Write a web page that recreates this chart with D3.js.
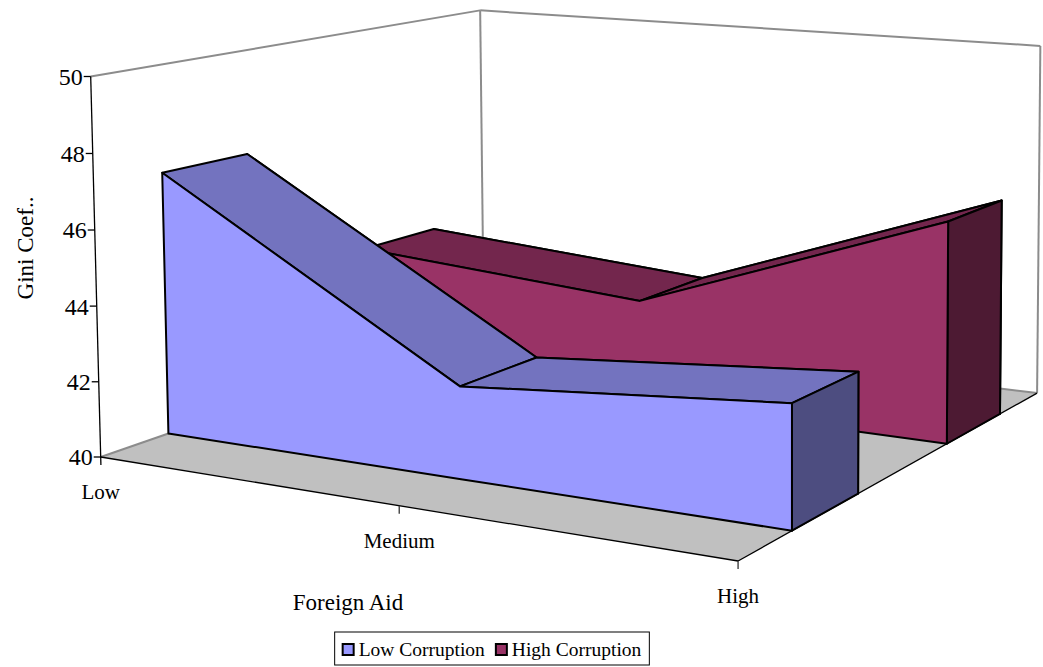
<!DOCTYPE html>
<html>
<head>
<meta charset="utf-8">
<script src="https://cdn.jsdelivr.net/npm/d3@7"></script>
<style>
  body { margin: 0; background: #fff; }
  svg { display: block; font-family: "Liberation Serif", "Times New Roman", serif; }
</style>
</head>
<body>
<svg id="chart" width="1043" height="667"></svg>
<script>
// ---- data ----
const categories = ["Low", "Medium", "High"];
const seriesNames = ["Low Corruption", "High Corruption"];
const lowCorruption = [47.1, 42.4, 43.1];
const highCorruption = [43.5, 42.9, 46.0];
const valueTicks = [40, 42, 44, 46, 48, 50];
const seriesColors = ["#9999FF", "#993366"];

// ---- perspective camera ----
// floor corner under the value axis, plus the vanishing point and weight of each world axis
const cam = {
  origin: [100.7, 457],
  vu: [-4618, -313], ku: -0.119,   // category axis (Low -> High)
  vw: [2255, -291],  kw: 0.2163,   // depth axis (front -> back)
  vv: [790, 26685],  kv: -0.0143   // value axis (up)
};
function project(u, w, v) {
  const d = 1 + cam.ku * u + cam.kw * w + cam.kv * v;
  const x = cam.origin[0] + cam.ku * u * cam.vu[0] + cam.kw * w * cam.vw[0] + cam.kv * v * cam.vv[0];
  const y = cam.origin[1] + cam.ku * u * cam.vu[1] + cam.kw * w * cam.vw[1] + cam.kv * v * cam.vv[1];
  return [x / d, y / d];
}

// ---- scales ----
const uScale = d3.scalePoint().domain(categories).range([0, 1]);
const wScale = d3.scaleBand().domain(seriesNames).range([0, 1]).paddingInner(0.6).paddingOuter(0.3);
const vScale = d3.scaleLinear().domain([40, 50]).range([0, 1]);

const series = seriesNames.map((name, i) => ({
  name,
  values: [lowCorruption, highCorruption][i],
  color: seriesColors[i]
}));

function shade(c, f) {
  const r = d3.rgb(c);
  return d3.rgb(r.r * f, r.g * f, r.b * f).formatHex();
}

const svg = d3.select("#chart");
const poly = pts => "M" + pts.map(p => p.join(",")).join("L") + "Z";
const line = d3.line();

// ---- walls and floor ----
const frame = svg.append("g");
frame.append("path") // left wall
  .attr("d", poly([project(0, 0, 0), project(0, 1, 0), project(0, 1, 1), project(0, 0, 1)]))
  .attr("fill", "#fff").attr("stroke", "none");
frame.append("path") // back wall
  .attr("d", poly([project(0, 1, 0), project(1, 1, 0), project(1, 1, 1), project(0, 1, 1)]))
  .attr("fill", "#fff").attr("stroke", "none");
frame.append("path") // floor
  .attr("d", poly([project(0, 0, 0), project(1, 0, 0), project(1, 1, 0), project(0, 1, 0)]))
  .attr("fill", "#C0C0C0").attr("stroke", "none");

const grayEdges = [
  [project(0, 0, 1), project(0, 1, 1)],
  [project(0, 1, 1), project(1, 1, 1)],
  [project(0, 1, 0), project(0, 1, 1)],
  [project(1, 1, 0), project(1, 1, 1)],
  [project(0, 0, 0), project(0, 1, 0)],
  [project(0, 1, 0), project(1, 1, 0)]
];
frame.selectAll(".wall-edge").data(grayEdges).join("path")
  .attr("class", "wall-edge")
  .attr("d", d => line(d))
  .attr("fill", "none").attr("stroke", "#8c8c8c").attr("stroke-width", 2);

frame.selectAll(".floor-edge").data([
  [project(0, 0, 0), project(1, 0, 0)],
  [project(1, 0, 0), project(1, 1, 0)]
]).join("path")
  .attr("class", "floor-edge")
  .attr("d", d => line(d))
  .attr("fill", "none").attr("stroke", "#000").attr("stroke-width", 1.3);

// ---- 3D area series, back to front ----
const plot = svg.append("g").attr("stroke", "#000").attr("stroke-width", 2).attr("stroke-linejoin", "round");
series.slice().reverse().forEach(s => {
  const w0 = wScale(s.name), w1 = w0 + wScale.bandwidth();
  const u = categories.map(c => uScale(c));
  const v = s.values.map(d => vScale(d));
  const n = categories.length;
  const g = plot.append("g");

  // back face
  g.append("path")
    .attr("d", poly(u.map(ui => project(ui, w1, 0))
      .concat(u.map((ui, i) => project(ui, w1, v[i])).reverse())))
    .attr("fill", s.color);

  // top faces
  for (let i = 0; i < n - 1; i++) {
    g.append("path")
      .attr("d", poly([project(u[i], w0, v[i]), project(u[i + 1], w0, v[i + 1]),
                       project(u[i + 1], w1, v[i + 1]), project(u[i], w1, v[i])]))
      .attr("fill", shade(s.color, 0.75));
  }

  // end face at the last category
  g.append("path")
    .attr("d", poly([project(u[n - 1], w0, 0), project(u[n - 1], w1, 0),
                     project(u[n - 1], w1, v[n - 1]), project(u[n - 1], w0, v[n - 1])]))
    .attr("fill", shade(s.color, 0.5));

  // front face
  g.append("path")
    .attr("d", poly(u.map(ui => project(ui, w0, 0))
      .concat(u.map((ui, i) => project(ui, w0, v[i])).reverse())))
    .attr("fill", s.color);
});

// ---- value axis ----
const axis = svg.append("g");
const a0 = project(0, 0, 0), a1 = project(0, 0, 1);
axis.append("path")
  .attr("d", line([a1, [a0[0] + (a0[0] - a1[0]) * 8 / (a0[1] - a1[1]), a0[1] + 8]]))
  .attr("stroke", "#000").attr("stroke-width", 1.3).attr("fill", "none");
const vt = axis.selectAll(".vtick").data(valueTicks).join("g").attr("class", "vtick")
  .attr("transform", d => { const p = project(0, 0, vScale(d)); return `translate(${p[0]},${p[1]})`; });
vt.append("line").attr("x1", -7).attr("x2", 0).attr("stroke", "#000").attr("stroke-width", 1.3);
vt.append("text").attr("x", -8).attr("dy", "0.35em").attr("text-anchor", "end")
  .attr("font-size", 24).attr("fill", "#000").text(d => d);

// ---- category axis ----
const ct = axis.selectAll(".ctick").data(categories).join("g").attr("class", "ctick")
  .attr("transform", d => { const p = project(uScale(d), 0, 0); return `translate(${p[0]},${p[1]})`; });
ct.filter((d, i) => i > 0).append("line").attr("y1", 0).attr("y2", 8)
  .attr("stroke", "#333").attr("stroke-width", 1.3);
ct.append("text").attr("y", 42).attr("text-anchor", "middle")
  .attr("font-size", 21).attr("fill", "#000").text(d => d);

// ---- titles ----
svg.append("text").attr("x", 348).attr("y", 610).attr("text-anchor", "middle")
  .attr("font-size", 23).text("Foreign Aid");
svg.append("text").attr("transform", "translate(33,248) rotate(-90)").attr("text-anchor", "middle")
  .attr("font-size", 23).text("Gini Coef..");

// ---- legend ----
const legend = svg.append("g");
const box = legend.append("rect").attr("fill", "#fff").attr("stroke", "#000").attr("stroke-width", 1);
const items = legend.append("g");
let xPos = 0;
series.forEach(s => {
  const it = items.append("g").attr("transform", `translate(${xPos},0)`);
  it.append("rect").attr("x", 0).attr("y", -12).attr("width", 11).attr("height", 11)
    .attr("fill", s.color).attr("stroke", "#000").attr("stroke-width", 2);
  const t = it.append("text").attr("x", 16).attr("y", 0).attr("font-size", 19.5).text(s.name);
  xPos += 16 + t.node().getComputedTextLength() + 11;
});
const legendWidth = xPos - 11;
const legendX = 492 - legendWidth / 2;
items.attr("transform", `translate(${legendX},656)`);
box.attr("x", legendX - 8).attr("y", 632).attr("width", legendWidth + 16).attr("height", 33);
</script>
</body>
</html>
